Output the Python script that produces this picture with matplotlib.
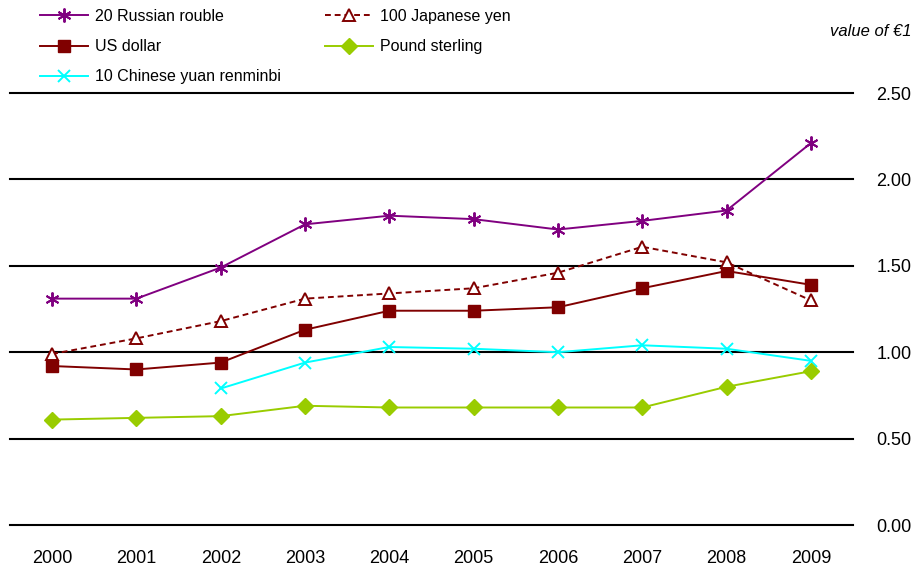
import matplotlib
matplotlib.use("Agg")
import matplotlib.pyplot as plt
import numpy as np

plt.rcParams['font.family'] = ['Liberation Sans', 'DejaVu Sans']

years = ["2000", "2001", "2002", "2003", "2004", "2005", "2006", "2007", "2008", "2009"]
rouble20 = [1.31, 1.31, 1.49, 1.74, 1.79, 1.77, 1.71, 1.76, 1.82, 2.21]
yen100 = [0.99, 1.08, 1.18, 1.31, 1.34, 1.37, 1.46, 1.61, 1.52, 1.30]
usd = [0.92, 0.90, 0.94, 1.13, 1.24, 1.24, 1.26, 1.37, 1.47, 1.39]
gbp = [0.61, 0.62, 0.63, 0.69, 0.68, 0.68, 0.68, 0.68, 0.80, 0.89]
yuan10 = [np.nan, np.nan, 0.79, 0.94, 1.03, 1.02, 1.00, 1.04, 1.02, 0.95]
yticks = [0.0, 0.5, 1.0, 1.5, 2.0, 2.5]

fig = plt.figure(figsize=(9.15, 5.67), dpi=100)
ax = fig.add_axes([10/915, 42/567, 843/915, 432/567])
x = np.arange(len(years))

for v in yticks:
    ax.axhline(v, color='black', lw=1.5, zorder=1, clip_on=False)

h1, = ax.plot(x, rouble20, color='#800080', lw=1.4, marker=(6, 2, 0), ms=10, mew=1.4, label='20 Russian rouble', zorder=3)
h2, = ax.plot(x, usd, color='#800000', lw=1.4, marker='s', ms=9, label='US dollar', zorder=3)
h3, = ax.plot(x, yuan10, color='#00FFFF', lw=1.4, marker='x', ms=9, mew=1.4, label='10 Chinese yuan renminbi', zorder=3)
h4, = ax.plot(x, yen100, color='#800000', lw=1.4, ls=(0, (3, 2)), marker='^', ms=9, mfc='white', mew=1.4, label='100 Japanese yen', zorder=3)
h5, = ax.plot(x, gbp, color='#99CC00', lw=1.4, marker='D', ms=8, label='Pound sterling', zorder=3)

ax.set_xlim(-0.5, len(years) - 0.5)
ax.set_ylim(0, 2.5)
ax.set_xticks(x)
ax.set_xticklabels(years, fontsize=13)
ax.set_yticks(yticks)
ax.set_yticklabels([f"{v:.2f}" for v in yticks], fontsize=13)
ax.yaxis.tick_right()
ax.tick_params(axis='y', length=0, pad=17)
ax.tick_params(axis='x', length=0, pad=18)
for s in ax.spines.values():
    s.set_visible(False)

legkw = dict(loc='upper left', frameon=False, fontsize=11.5, handlelength=3.0,
             handletextpad=0.45, labelspacing=0.95, numpoints=1,
             borderaxespad=0, borderpad=0)
leg1 = fig.legend(handles=[h1, h2, h3], bbox_to_anchor=(40/915, 1 - 9/567), **legkw)
leg2 = fig.legend(handles=[h4, h5], bbox_to_anchor=(325/915, 1 - 9/567), **legkw)

fig.text(912/915, 1 - 32/567, 'value of €1', ha='right', va='center', fontsize=12, style='italic')

fig.savefig('out.png', dpi=100)
